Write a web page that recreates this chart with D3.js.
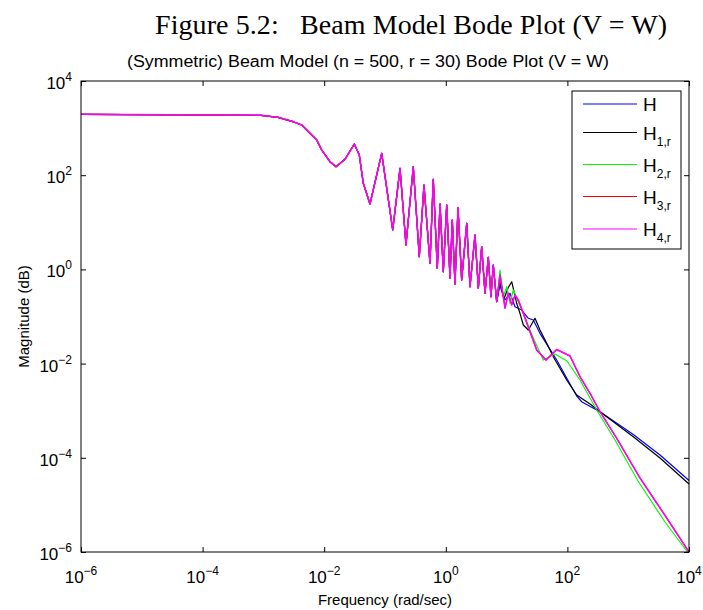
<!DOCTYPE html>
<html>
<head>
<meta charset="utf-8">
<script src="https://cdn.jsdelivr.net/npm/d3@7"></script>
<style>
  html, body { margin: 0; padding: 0; background: #fff; }
  svg { display: block; }
</style>
</head>
<body>
<svg id="chart" width="703" height="610"></svg>
<script>
// ---------- data (stored as log10 exponents) ----------
const seriesNames = ["H", "H1,r", "H2,r", "H3,r", "H4,r"];
const seriesColors = ["#0000ff", "#000000", "#00ff00", "#ff0000", "#ff00ff"];

// log10 of the axis tick values
const xTickExps = [-6, -4, -2, 0, 2, 4];
const yTickExps = [-6, -4, -2, 0, 2, 4];

// shared low-frequency response (all five curves coincide here)
// log10 frequency (rad/sec)
const commonFreqExp = [-6.000, -3.039, -2.760, -2.513, -2.370, -2.123, -2.041, -1.905, -1.806, -1.658,
  -1.505, -1.423, -1.357, -1.247, -1.054, -0.873, -0.753, -0.655, -0.535, -0.436,
  -0.359, -0.260, -0.206, -0.140, -0.095, -0.041, 0.015, 0.069, 0.107, 0.151,
  0.201, 0.261, 0.344, 0.398, 0.480, 0.535, 0.590, 0.645, 0.699, 0.743,
  0.781, 0.837];
// log10 magnitude
const commonMagExp = [3.293, 3.272, 3.229, 3.136, 3.066, 2.747, 2.535, 2.287, 2.180, 2.338,
  2.662, 2.429, 1.828, 1.389, 2.465, 0.837, 2.146, 0.518, 2.180, 0.270,
  1.792, 0.129, 1.913, 0.023, 1.389, -0.049, 1.367, -0.183, 1.049, -0.310,
  1.314, -0.225, 0.979, -0.367, 0.730, -0.401, 0.482, -0.507, 0.257, -0.580,
  0.093, -0.686];

// high-frequency tails, where the curves separate
const hFreqExp = [0.891, 0.924, 0.974, 1.056, 1.138, 1.248, 1.357, 1.439, 1.549, 1.686,
  1.824, 1.988, 2.153, 2.240, 2.536, 3.084, 3.523, 4.000];
const hMagExp = [-0.331, -0.480, -0.650, -0.507, -0.792, -0.862, -1.038, -1.074, -1.357, -1.641,
  -1.924, -2.306, -2.688, -2.815, -3.021, -3.505, -3.941, -4.482];

const h1FreqExp = [0.891, 0.957, 1.023, 1.084, 1.166, 1.220, 1.275, 1.357, 1.467, 1.549,
  1.660, 1.768, 1.988, 2.153, 2.372, 2.536, 3.084, 3.523, 4.000];
const h1MagExp = [-0.268, -0.628, -0.395, -0.261, -0.720, -0.932, -1.180, -1.287, -1.038, -1.287,
  -1.569, -1.854, -2.348, -2.667, -2.858, -3.021, -3.552, -4.004, -4.556];

const h2FreqExp = [0.891, 0.946, 1.002, 1.056, 1.110, 1.166, 1.248, 1.439, 1.604, 1.796,
  1.993, 2.207, 2.482, 2.783, 3.161, 3.605, 3.975];
const h2MagExp = [-0.013, -0.580, -0.367, -0.720, -0.437, -0.607, -0.862, -1.456, -1.924, -1.796,
  -1.945, -2.348, -2.985, -3.622, -4.493, -5.363, -6.000];

// H3,r and H4,r coincide in the picture
const h4FreqExp = [0.891, 0.974, 1.028, 1.084, 1.138, 1.192, 1.275, 1.385, 1.495, 1.648,
  1.824, 2.043, 2.207, 2.372, 2.536, 2.811, 3.194, 3.633, 4.000];
const h4MagExp = [-0.119, -0.820, -0.507, -0.756, -0.544, -0.650, -0.932, -1.323, -1.711, -1.924,
  -1.701, -1.839, -2.278, -2.631, -3.021, -3.586, -4.429, -5.278, -6.000];
const h3FreqExp = h4FreqExp;
const h3MagExp = h4MagExp;

// ---------- build series ----------
function toPoints(fe, me) {
  return fe.map((f, i) => ({ w: Math.pow(10, f), m: Math.pow(10, me[i]) }));
}
const common = toPoints(commonFreqExp, commonMagExp);
const series = [
  common.concat(toPoints(hFreqExp, hMagExp)),
  common.concat(toPoints(h1FreqExp, h1MagExp)),
  common.concat(toPoints(h2FreqExp, h2MagExp)),
  common.concat(toPoints(h3FreqExp, h3MagExp)),
  common.concat(toPoints(h4FreqExp, h4MagExp))
];

// ---------- layout ----------
const svg = d3.select("#chart");
const L = 81, R = 689, T = 81, B = 552;
const x = d3.scaleLog().domain([1e-6, 1e4]).range([L, R]);
const y = d3.scaleLog().domain([1e-6, 1e4]).range([B, T]);
const sansFont = "'Liberation Sans', Arial, Helvetica, sans-serif";

// title
svg.append("text")
  .attr("x", 155).attr("y", 34)
  .attr("font-family", "'Liberation Serif', 'Times New Roman', serif")
  .attr("font-size", 28)
  .attr("textLength", 512).attr("lengthAdjust", "spacing")
  .attr("fill", "#000")
  .text("Figure 5.2:\u2002 Beam Model Bode Plot (V = W)");

svg.append("text")
  .attr("x", 127).attr("y", 67)
  .attr("font-family", sansFont)
  .attr("font-size", 16)
  .attr("textLength", 482).attr("lengthAdjust", "spacingAndGlyphs")
  .attr("fill", "#000")
  .text("(Symmetric) Beam Model (n = 500, r = 30) Bode Plot (V = W)");

// clip
svg.append("clipPath").attr("id", "clip")
  .append("rect").attr("x", L).attr("y", T - 1).attr("width", R - L + 1).attr("height", B - T + 2);

// lines
const line = d3.line().x(d => x(d.w)).y(d => y(d.m));
const plot = svg.append("g").attr("clip-path", "url(#clip)");
series.forEach((s, i) => {
  plot.append("path")
    .datum(s)
    .attr("d", line)
    .attr("fill", "none")
    .attr("stroke", seriesColors[i])
    .attr("stroke-width", i === 4 ? 1.5 : 1.2)
    .attr("stroke-linejoin", "round");
});

// axes box
svg.append("rect")
  .attr("x", L).attr("y", T).attr("width", R - L).attr("height", B - T)
  .attr("fill", "none").attr("stroke", "#000").attr("stroke-width", 1);

const xTicks = xTickExps.map(e => Math.pow(10, e));
const yTicks = yTickExps.map(e => Math.pow(10, e));

function styleAxis(g) {
  g.select(".domain").remove();
  g.selectAll(".tick line").attr("stroke", "#000");
  g.selectAll(".tick text").remove();
}
svg.append("g").attr("transform", `translate(0,${B})`)
  .call(d3.axisBottom(x).tickValues(xTicks).tickSizeInner(-5).tickSizeOuter(0)).call(styleAxis);
svg.append("g").attr("transform", `translate(0,${T})`)
  .call(d3.axisTop(x).tickValues(xTicks).tickSizeInner(-5).tickSizeOuter(0)).call(styleAxis);
svg.append("g").attr("transform", `translate(${L},0)`)
  .call(d3.axisLeft(y).tickValues(yTicks).tickSizeInner(-5).tickSizeOuter(0)).call(styleAxis);
svg.append("g").attr("transform", `translate(${R},0)`)
  .call(d3.axisRight(y).tickValues(yTicks).tickSizeInner(-5).tickSizeOuter(0)).call(styleAxis);

function expLabel(sel, e) {
  sel.append("tspan").text("10");
  sel.append("tspan").attr("font-size", 12).attr("dy", -8)
    .text(e < 0 ? "\u2212" + Math.abs(e) : String(e));
}
// x tick labels
xTickExps.forEach(e => {
  const t = svg.append("text")
    .attr("x", x(Math.pow(10, e))).attr("y", 583)
    .attr("text-anchor", "middle")
    .attr("font-family", sansFont).attr("font-size", 17).attr("fill", "#000");
  expLabel(t, e);
});
// y tick labels
yTickExps.forEach(e => {
  const t = svg.append("text")
    .attr("x", 72).attr("y", y(Math.pow(10, e)) + 8)
    .attr("text-anchor", "end")
    .attr("font-family", sansFont).attr("font-size", 17).attr("fill", "#000");
  expLabel(t, e);
});

// axis labels
svg.append("text")
  .attr("x", (L + R) / 2).attr("y", 605)
  .attr("text-anchor", "middle")
  .attr("font-family", sansFont).attr("font-size", 15).attr("fill", "#000")
  .text("Frequency (rad/sec)");
svg.append("text")
  .attr("transform", `translate(29,${(T + B) / 2}) rotate(-90)`)
  .attr("text-anchor", "middle")
  .attr("font-family", sansFont).attr("font-size", 15).attr("fill", "#000")
  .text("Magnitude (dB)");

// legend
const lg = svg.append("g");
lg.append("rect")
  .attr("x", 572).attr("y", 91).attr("width", 109).attr("height", 158)
  .attr("fill", "#fff").attr("stroke", "#000").attr("stroke-width", 1);
const legendY = [104, 132.5, 164.5, 196.5, 229];
seriesNames.forEach((n, i) => {
  lg.append("line")
    .attr("x1", 583).attr("x2", 637)
    .attr("y1", legendY[i]).attr("y2", legendY[i])
    .attr("stroke", seriesColors[i]).attr("stroke-width", 1.2);
  const t = lg.append("text")
    .attr("x", 643).attr("y", legendY[i] + 7)
    .attr("font-family", sansFont).attr("font-size", 19).attr("fill", "#000");
  t.append("tspan").text("H");
  if (n.length > 1) {
    t.append("tspan").attr("font-size", 12).attr("dy", 6).text(n.slice(1));
  }
});
</script>
</body>
</html>
